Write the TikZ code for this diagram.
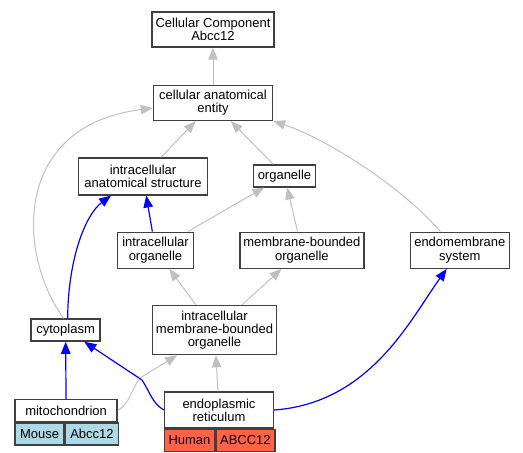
\documentclass[tikz,border=0pt]{standalone}
\usepackage{fontspec}
\setmainfont{Liberation Sans}
\usetikzlibrary{arrows.meta,positioning}
\definecolor{edgegray}{HTML}{C0C0C0}
\definecolor{mouseblue}{HTML}{ADD8E6}
\definecolor{humanred}{HTML}{FF6347}

\begin{document}
\begin{tikzpicture}[x=1pt,y=-1pt,>={Triangle[length=12pt,width=9.5pt]},
        term/.style={draw=black!75,line width=1.4pt,fill=white,inner sep=0pt,align=center,
                     font=\fontsize{13}{13.3}\selectfont},
        isa/.style={->,draw=edgegray,line width=1pt},
        part/.style={->,draw=blue,line width=1.2pt}]
        \useasboundingbox (0,0) rectangle (523,453);

        \node[term,minimum width=122pt,minimum height=35pt] (cc) at (213,29.5) {Cellular Component\\Abcc12};
        \node[term,minimum width=119pt,minimum height=35pt] (cae) [below=37pt of cc] {cellular anatomical\\entity};
        \node[term,minimum width=129pt,minimum height=37pt] (ias) [below=36pt of cae,xshift=-70pt] {intracellular\\anatomical structure};
        \node[term,minimum width=62pt,minimum height=22pt] (org) [below=43pt of cae,xshift=71.5pt] {organelle};
        \node[term,minimum width=76pt,minimum height=36pt] (io) [below=36pt of ias,xshift=12.5pt] {intracellular\\organelle};
        \node[term,minimum width=124pt,minimum height=36pt] (mbo) [right=45pt of io] {membrane-bounded\\organelle};
        \node[term,minimum width=99pt,minimum height=36pt] (ems) [right=45pt of mbo] {endomembrane\\system};
        \node[term,minimum width=124pt,minimum height=49pt] (imbo) [below=36pt of io,xshift=59pt] {intracellular\\membrane-bounded\\organelle};
        \node[term,minimum width=69pt,minimum height=22pt] (cyt) [left=51pt of imbo] {cytoplasm};

        % annotated genes
        \node[term,minimum width=102pt,minimum height=22pt] (mito) [below=57pt of cyt,xshift=0.5pt] {mitochondrion};
        \node[term,fill=mouseblue,minimum width=49pt,minimum height=22pt,anchor=north west] (mouse) at (mito.south west) {Mouse};
        \node[term,fill=mouseblue,minimum width=53pt,minimum height=22pt,anchor=north west] (mabcc) at (mouse.north east) {Abcc12};
        \node[term,minimum width=109pt,minimum height=36pt] (er) [below=36pt of imbo,xshift=4.5pt] {endoplasmic\\reticulum};
        \node[term,fill=humanred,minimum width=50pt,minimum height=22pt,anchor=north west] (human) at (er.south west) {Human};
        \node[term,fill=humanred,minimum width=59pt,minimum height=22pt,anchor=north west] (habcc) at (human.north east) {ABCC12};

        \path (cae) edge[isa] (cc)
              (ias) edge[isa] (cae)
              (org) edge[isa] (cae)
              (io) edge[part] (ias)
                   edge[isa] (org)
              (mbo) edge[isa] (org)
              (imbo) edge[isa] (io)
                     edge[isa] (mbo)
              (mito) edge[part] (cyt)
              (er) edge[isa] (imbo);

        \draw[isa] (cyt.100) .. controls (15,250) and (15,125) .. (cae.185);
        \draw[part] (cyt.80) .. controls (68,260) and (85,215) .. (ias.211);
        \draw[isa] (ems.136) .. controls (405,190) and (330,140) .. (cae.south east);
        \draw[isa] (mito.east) .. controls (130,403) and (130,392) .. (140,378) -- (imbo.214);
        \draw[part] (er.west) .. controls (152,403) and (150,392) .. (142,380) -- (cyt.-32);
        \draw[part] (er.east) .. controls (370,403) and (410,320) .. (ems.235);
    \end{tikzpicture}
\end{document}
